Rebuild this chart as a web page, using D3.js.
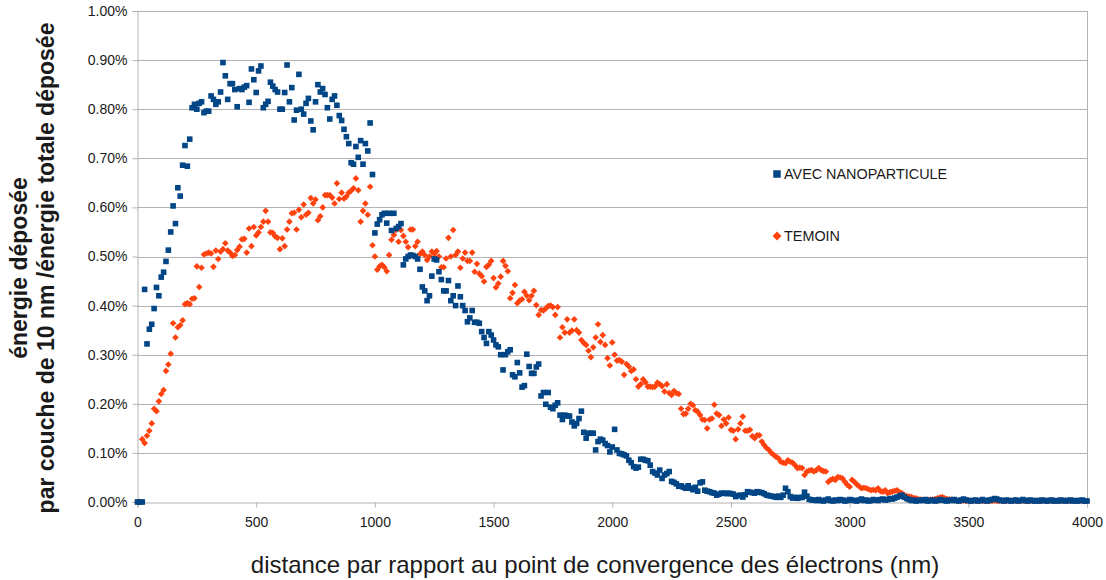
<!DOCTYPE html>
<html lang="fr">
	<head>
		<meta charset="utf-8">
		<title>Energie deposee</title>
		<script type="text/javascript" src="https://cdn.jsdelivr.net/npm/d3@7"></script>
		<style type="text/css">
		body { margin: 0; background: #fff; }
		text { font-family: "Liberation Sans", Arial, sans-serif; fill: #1a1a1a; }
		.grid line { stroke: #b3b3b3; stroke-width: 1; }
		.axis path, .axis line { stroke: #b3b3b3; }
		</style>
	</head>
	<body>
		<script type="text/javascript">

		//Width and height
		var w = 1106;
		var h = 580;

		//Layer thickness (nm) : one point per 10 nm layer
		var layerStep = 10;

		//Tick values
		var xTicks = [0, 500, 1000, 1500, 2000, 2500, 3000, 3500, 4000];
		var yTicks = [0, 0.1, 0.2, 0.3, 0.4, 0.5, 0.6, 0.7, 0.8, 0.9, 1.0];

		var seriesNames = ["AVEC NANOPARTICULE", "TEMOIN"];

		//Energy per layer (%), with nanoparticle
		var avecNano = [
			0, 0, 0, 0.433, 0.322, 0.352, 0.362, 0.394, 0.437, 0.42,
			0.458, 0.468, 0.49, 0.513, 0.55, 0.603, 0.567, 0.64, 0.623, 0.686,
			0.726, 0.684, 0.739, 0.803, 0.81, 0.80, 0.812, 0.815, 0.793, 0.796,
			0.796, 0.827, 0.82, 0.81, 0.815, 0.835, 0.895, 0.868, 0.82, 0.852,
			0.852, 0.84, 0.805, 0.842, 0.84, 0.845, 0.848, 0.814, 0.882, 0.86,
			0.834, 0.878, 0.888, 0.803, 0.81, 0.816, 0.855, 0.847, 0.84, 0.835,
			0.80, 0.80, 0.834, 0.89, 0.815, 0.844, 0.778, 0.798, 0.871, 0.80,
			0.79, 0.812, 0.822, 0.776, 0.758, 0.815, 0.85, 0.835, 0.842, 0.83,
			0.803, 0.78, 0.82, 0.827, 0.808, 0.787, 0.777, 0.759, 0.744, 0.73,
			0.691, 0.688, 0.724, 0.702, 0.736, 0.688, 0.73, 0.715, 0.772, 0.667,
			0.548, 0.566, 0.575, 0.585, 0.588, 0.568, 0.588, 0.553, 0.588, 0.557,
			0.561, 0.567, 0.483, 0.495, 0.50, 0.503, 0.502, 0.50, 0.495, 0.474,
			0.438, 0.43, 0.41, 0.42, 0.46, 0.495, 0.493, 0.469, 0.453, 0.43,
			0.43, 0.451, 0.41, 0.42, 0.40, 0.44, 0.418, 0.40, 0.39, 0.367,
			0.375, 0.39, 0.366, 0.366, 0.364, 0.347, 0.335, 0.323, 0.347, 0.34,
			0.33, 0.32, 0.316, 0.30, 0.269, 0.30, 0.306, 0.31, 0.259, 0.255,
			0.284, 0.263, 0.234, 0.237, 0.301, 0.276, 0.262, 0.262, 0.275, 0.281,
			0.216, 0.223, 0.199, 0.223, 0.193, 0.19, 0.197, 0.202, 0.177, 0.168,
			0.177, 0.175, 0.175, 0.163, 0.155, 0.16, 0.17, 0.185, 0.142, 0.13,
			0.14, 0.14, 0.14, 0.106, 0.123, 0.128, 0.126, 0.119, 0.115, 0.102,
			0.112, 0.148, 0.106, 0.099, 0.098, 0.096, 0.094, 0.085, 0.08, 0.072,
			0.069, 0.071, 0.087, 0.087, 0.085, 0.084, 0.075, 0.062, 0.059, 0.055,
			0.065, 0.048, 0.055, 0.058, 0.062, 0.042, 0.04, 0.037, 0.032, 0.033,
			0.03, 0.028, 0.033, 0.028, 0.025, 0.03, 0.022, 0.039, 0.041, 0.024,
			0.022, 0.021, 0.019, 0.018, 0.014, 0.016, 0.018, 0.018, 0.017, 0.018,
			0.017, 0.016, 0.011, 0.013, 0.014, 0.01, 0.015, 0.021, 0.02, 0.019,
			0.018, 0.021, 0.02, 0.019, 0.017, 0.014, 0.013, 0.012, 0.011, 0.0095,
			0.012, 0.0095, 0.014, 0.028, 0.021, 0.011, 0.008, 0.0095, 0.0075, 0.009,
			0.0095, 0.02, 0.012, 0.0055, 0.004, 0.004, 0.003, 0.005, 0.003, 0.002,
			0.004, 0.006, 0.003, 0.002, 0.004, 0.003, 0.005, 0.004, 0.002, 0.003,
			0.005, 0.004, 0.003, 0.002, 0.004, 0.006, 0.003, 0.004, 0.002, 0.003,
			0.005, 0.004, 0.003, 0.005, 0.006, 0.004, 0.005, 0.007, 0.006, 0.008,
			0.01, 0.012, 0.014, 0.01, 0.007, 0.005, 0.003, 0.004, 0.002, 0.003,
			0.004, 0.003, 0.005, 0.002, 0.003, 0.004, 0.002, 0.003, 0.005, 0.004,
			0.003, 0.002, 0.004, 0.003, 0.005, 0.003, 0.002, 0.004, 0.006, 0.004,
			0.003, 0.002, 0.003, 0.004, 0.002, 0.003, 0.005, 0.003, 0.002, 0.004,
			0.005, 0.007, 0.006, 0.004, 0.003, 0.002, 0.004, 0.003, 0.002, 0.003,
			0.004, 0.002, 0.003, 0.005, 0.003, 0.002, 0.004, 0.003, 0.002, 0.003,
			0.002, 0.004, 0.003, 0.002, 0.003, 0.004, 0.002, 0.003, 0.002, 0.004,
			0.003, 0.002, 0.003, 0.004, 0.002, 0.003, 0.002, 0.003, 0.004, 0.002,
			0.002
		];

		//Energy per layer (%), control
		var temoin = [
			0, 0, 0.128, 0.12, 0.135, 0.145, 0.16, 0.19, 0.185, 0.205,
			0.22, 0.228, 0.267, 0.28, 0.302, 0.364, 0.335, 0.356, 0.36, 0.37,
			0.403, 0.405, 0.403, 0.414, 0.415, 0.48, 0.438, 0.477, 0.504, 0.506,
			0.508, 0.506, 0.479, 0.512, 0.495, 0.51, 0.515, 0.527, 0.512, 0.508,
			0.501, 0.503, 0.513, 0.52, 0.535, 0.536, 0.508, 0.557, 0.521, 0.56,
			0.543, 0.549, 0.56, 0.571, 0.593, 0.571, 0.549, 0.548, 0.541, 0.538,
			0.515, 0.537, 0.521, 0.555, 0.571, 0.588, 0.589, 0.555, 0.595, 0.58,
			0.606, 0.585, 0.589, 0.619, 0.608, 0.616, 0.574, 0.582, 0.60, 0.625,
			0.625, 0.625, 0.62, 0.608, 0.649, 0.617, 0.63, 0.618, 0.622, 0.63,
			0.634, 0.639, 0.659, 0.635, 0.571, 0.593, 0.608, 0.585, 0.642, 0.523,
			0.50, 0.473, 0.48, 0.483, 0.478, 0.47, 0.503, 0.534, 0.544, 0.554,
			0.53, 0.554, 0.542, 0.53, 0.519, 0.555, 0.555, 0.521, 0.53, 0.505,
			0.51, 0.503, 0.493, 0.50, 0.51, 0.505, 0.511, 0.50, 0.478, 0.478,
			0.496, 0.538, 0.50, 0.554, 0.503, 0.51, 0.477, 0.496, 0.508, 0.491,
			0.491, 0.508, 0.469, 0.485, 0.465, 0.46, 0.449, 0.479, 0.483, 0.491,
			0.456, 0.437, 0.445, 0.459, 0.491, 0.481, 0.47, 0.415, 0.426, 0.442,
			0.405, 0.41, 0.413, 0.428, 0.42, 0.411, 0.42, 0.43, 0.401, 0.381,
			0.391, 0.39, 0.394, 0.399, 0.40, 0.397, 0.381, 0.397, 0.335, 0.356,
			0.345, 0.372, 0.345, 0.349, 0.372, 0.35, 0.345, 0.33, 0.324, 0.32,
			0.308, 0.295, 0.315, 0.335, 0.362, 0.326, 0.34, 0.32, 0.293, 0.278,
			0.325, 0.30, 0.288, 0.289, 0.286, 0.259, 0.281, 0.276, 0.267, 0.27,
			0.25, 0.235, 0.24, 0.25, 0.244, 0.235, 0.235, 0.234, 0.235, 0.243,
			0.24, 0.236, 0.225, 0.24, 0.222, 0.218, 0.226, 0.222, 0.22, 0.19,
			0.179, 0.18, 0.19, 0.20, 0.197, 0.187, 0.184, 0.177, 0.168, 0.167,
			0.15, 0.168, 0.17, 0.198, 0.18, 0.177, 0.155, 0.168, 0.16, 0.172,
			0.147, 0.145, 0.128, 0.148, 0.16, 0.174, 0.145, 0.145, 0.147, 0.134,
			0.13, 0.136, 0.136, 0.123, 0.116, 0.11, 0.106, 0.10, 0.096, 0.092,
			0.089, 0.082, 0.08, 0.079, 0.085, 0.082, 0.08, 0.075, 0.069, 0.07,
			0.069, 0.055, 0.062, 0.064, 0.065, 0.062, 0.065, 0.069, 0.065, 0.063,
			0.062, 0.041, 0.045, 0.047, 0.045, 0.051, 0.05, 0.048, 0.041, 0.035,
			0.031, 0.045, 0.041, 0.036, 0.032, 0.028, 0.029, 0.028, 0.026, 0.024,
			0.025, 0.024, 0.028, 0.022, 0.021, 0.024, 0.018, 0.02, 0.021, 0.023,
			0.024, 0.02, 0.018, 0.014, 0.012, 0.011, 0.01, 0.008, 0.0075, 0.0055,
			0.005, 0.004, 0.004, 0.004, 0.005, 0.005, 0.006, 0.0075, 0.009, 0.01,
			0.0075, 0.006, 0.0055, 0.005, 0.004, 0.003, 0.003, 0.002, 0.003, 0.002,
			0.003, 0.002, 0.002, 0.003, 0.002, 0.003, 0.002, 0.002, 0.003, 0.002,
			0.002, 0.003, 0.002, 0.002, 0.003, 0.002, 0.002, 0.003, 0.002, 0.002,
			0.003, 0.002, 0.002, 0.003, 0.002, 0.002, 0.003, 0.002, 0.002, 0.003,
			0.002, 0.002, 0.003, 0.002, 0.002, 0.003, 0.002, 0.002, 0.003, 0.002,
			0.002, 0.003, 0.002, 0.002, 0.003, 0.002, 0.002, 0.003, 0.002, 0.002,
			0.002
		];

		var colors = ["#004586", "#ff420e"];

		//Plot area (not "top": that name is taken by window.top)
		var plotLeft = 137.5, plotRight = 1087, plotTop = 11, plotBottom = 502;

		//Create scale functions
		var xScale = d3.scaleLinear().domain([0, 4000]).range([plotLeft, plotRight]);
		var yScale = d3.scaleLinear().domain([0, 1]).range([plotBottom, plotTop]);

		//Create SVG element
		var svg = d3.select("body")
					.append("svg")
					.attr("width", w)
					.attr("height", h);

		//Horizontal grid lines
		svg.append("g")
			.attr("class", "grid")
			.selectAll("line")
			.data(yTicks.slice(1))
			.enter()
			.append("line")
			.attr("x1", plotLeft)
			.attr("x2", plotRight)
			.attr("y1", function(d) { return Math.round(yScale(d)) + 0.5; })
			.attr("y2", function(d) { return Math.round(yScale(d)) + 0.5; });

		//Right border
		svg.append("line")
			.attr("x1", plotRight + 0.5).attr("x2", plotRight + 0.5)
			.attr("y1", plotTop).attr("y2", plotBottom)
			.attr("stroke", "#b3b3b3");

		//Define axes
		var xAxis = d3.axisBottom(xScale)
						.tickValues(xTicks)
						.tickSize(5)
						.tickFormat(d3.format("d"));

		var yAxis = d3.axisLeft(yScale)
						.tickValues(yTicks)
						.tickSize(5)
						.tickFormat(function(d) { return d.toFixed(2) + "%"; });

		var gx = svg.append("g")
			.attr("class", "axis")
			.attr("transform", "translate(0," + (plotBottom + 0.5) + ")")
			.call(xAxis);
		gx.selectAll("text")
			.attr("dy", null)
			.attr("y", 24)
			.style("font-size", "14px");

		var gy = svg.append("g")
			.attr("class", "axis")
			.attr("transform", "translate(" + plotLeft + ",0)")
			.call(yAxis);
		gy.selectAll("text")
			.attr("x", -10)
			.style("font-size", "14px");

		//Build points from the arrays
		var ptsNano = avecNano.map(function(v, i) { return { x: i * layerStep, y: v }; });
		var ptsTemoin = temoin.map(function(v, i) { return { x: i * layerStep, y: v }; });

		//Diamond = square turned by 45 degrees
		var diamond = d3.symbol().type(d3.symbolSquare).size(22);

		//Control series first, then the nanoparticle series on top
		svg.append("g")
			.selectAll("path")
			.data(ptsTemoin)
			.enter()
			.append("path")
			.attr("d", diamond)
			.attr("transform", function(d) { return "translate(" + xScale(d.x) + "," + yScale(d.y) + ") rotate(45)"; })
			.attr("fill", colors[1]);

		svg.append("g")
			.selectAll("rect")
			.data(ptsNano)
			.enter()
			.append("rect")
			.attr("x", function(d) { return xScale(d.x) - 2.8; })
			.attr("y", function(d) { return yScale(d.y) - 2.8; })
			.attr("width", 5.6)
			.attr("height", 5.6)
			.attr("fill", colors[0]);

		//Legend
		var legend = svg.append("g")
			.selectAll("g")
			.data(seriesNames)
			.enter()
			.append("g")
			.attr("transform", function(d, i) { return "translate(777," + (174 + i * 62) + ")"; });

		legend.append("path")
			.attr("d", d3.symbol().type(d3.symbolSquare).size(56))
			.attr("transform", function(d, i) { return i === 0 ? null : "rotate(45) scale(0.85)"; })
			.attr("fill", function(d, i) { return colors[i]; });

		legend.append("text")
			.attr("x", 7)
			.attr("y", 5)
			.style("font-size", "14.4px")
			.text(function(d) { return d; });

		//Axis titles
		svg.append("text")
			.attr("x", 595)
			.attr("y", 573)
			.attr("text-anchor", "middle")
			.style("font-size", "24px")
			.text("distance par rapport au point de convergence des électrons (nm)");

		var yTitle = svg.append("text")
			.attr("transform", "translate(0,268) rotate(-90)")
			.attr("text-anchor", "middle")
			.style("font-size", "23px")
			.style("font-weight", "bold");

		yTitle.append("tspan")
			.attr("x", 0)
			.attr("y", 27)
			.text("énergie déposée");

		yTitle.append("tspan")
			.attr("x", 0)
			.attr("y", 54)
			.text("par couche de 10 nm /énergie totale déposée");

		</script>
	</body>
</html>
